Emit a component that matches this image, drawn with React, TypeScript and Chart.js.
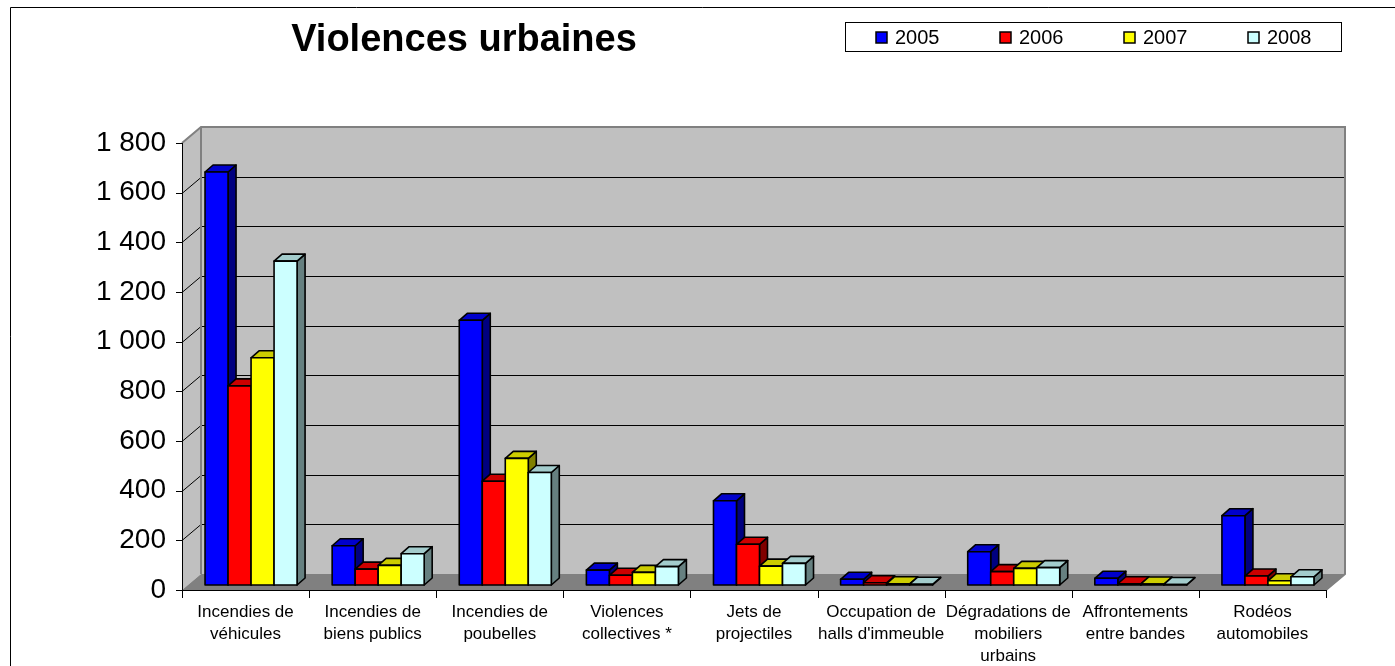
import React, { useEffect, useRef } from 'react';
import { Chart, registerables } from 'chart.js';

Chart.register(...registerables);

const TITLE = 'Violences urbaines';
const categories: string[][] = [
  ['Incendies de', 'véhicules'],
  ['Incendies de', 'biens publics'],
  ['Incendies de', 'poubelles'],
  ['Violences', 'collectives *'],
  ['Jets de', 'projectiles'],
  ['Occupation de', "halls d'immeuble"],
  ['Dégradations de', 'mobiliers', 'urbains'],
  ['Affrontements', 'entre bandes'],
  ['Rodéos', 'automobiles'],
];
const years = ['2005', '2006', '2007', '2008'];
const values2005 = [1663, 158, 1066, 60, 339, 23, 134, 27, 279];
const values2006 = [802, 64, 418, 39, 164, 9, 54, 5, 36];
const values2007 = [915, 79, 510, 51, 76, 5, 67, 4, 17];
const values2008 = [1304, 126, 453, 74, 87, 3, 70, 2, 33];
const yMin = 0;
const yMax = 1800;
const yStep = 200;

const frontColors = ['#0000FF', '#FF0000', '#FFFF00', '#CCFFFF'];
const topColors = ['#0000CC', '#CC0000', '#CCCC00', '#A3CCCC'];
const sideColors = ['#000080', '#800000', '#808000', '#668080'];

const FONT = '"Liberation Sans", Arial, Helvetica, sans-serif';

// wall depth and bar placement inside the depth
const DX = 19, DY = -16;
const SX = 5.5, SY = -5;
const BX = 8, BY = -7;

function fmt(v: number): string {
  if (v >= 1000) return `${Math.floor(v / 1000)} ${String(v % 1000).padStart(3, '0')}`;
  return String(v);
}

const threeD = {
  id: 'threeD',
  beforeDraw(chart: any) {
    const ctx = chart.ctx as CanvasRenderingContext2D;
    ctx.save();
    ctx.fillStyle = '#ffffff';
    ctx.fillRect(0, 0, chart.width, chart.height);
    // frame
    ctx.strokeStyle = '#000';
    ctx.lineWidth = 1;
    ctx.beginPath();
    ctx.moveTo(10.5, chart.height);
    ctx.lineTo(10.5, 7.5);
    ctx.lineTo(chart.width, 7.5);
    ctx.stroke();
    // title
    ctx.fillStyle = '#000';
    ctx.font = `bold 38px ${FONT}`;
    ctx.textAlign = 'center';
    ctx.textBaseline = 'alphabetic';
    ctx.fillText(TITLE, 464, 51);
    // legend
    ctx.lineWidth = 1;
    ctx.strokeStyle = '#000';
    ctx.strokeRect(845.5, 22.5, 496, 29);
    ctx.font = `20px ${FONT}`;
    ctx.textAlign = 'left';
    ctx.textBaseline = 'middle';
    years.forEach((yr, i) => {
      const sx = 876 + i * 124;
      ctx.fillStyle = frontColors[i];
      ctx.fillRect(sx, 32, 11, 11);
      ctx.lineWidth = 1.5;
      ctx.strokeRect(sx, 32, 11, 11);
      ctx.fillStyle = '#000';
      ctx.fillText(yr, sx + 19, 38);
    });
    ctx.restore();
  },
  beforeDatasetsDraw(chart: any) {
    const ctx = chart.ctx as CanvasRenderingContext2D;
    const a = chart.chartArea;
    const ys = chart.scales.y;
    const xs = chart.scales.x;
    const L = a.left, R = a.right;
    const B = ys.getPixelForValue(yMin);
    const T = ys.getPixelForValue(yMax);
    ctx.save();
    // side wall
    ctx.fillStyle = '#C0C0C0';
    ctx.beginPath();
    ctx.moveTo(L, T); ctx.lineTo(L + DX, T + DY); ctx.lineTo(L + DX, B + DY); ctx.lineTo(L, B);
    ctx.closePath(); ctx.fill();
    // back wall
    ctx.fillRect(L + DX, T + DY, R - L, B - T);
    // floor
    ctx.fillStyle = '#808080';
    ctx.beginPath();
    ctx.moveTo(L, B); ctx.lineTo(R, B); ctx.lineTo(R + DX, B + DY); ctx.lineTo(L + DX, B + DY);
    ctx.closePath(); ctx.fill();
    // gridlines
    ctx.strokeStyle = '#000';
    ctx.lineWidth = 1;
    for (let v = yMin + yStep; v < yMax; v += yStep) {
      const py = Math.round(ys.getPixelForValue(v)) + 0.5;
      ctx.beginPath();
      ctx.moveTo(L, py); ctx.lineTo(L + DX, py + DY); ctx.lineTo(R + DX, py + DY);
      ctx.stroke();
    }
    // wall borders
    ctx.strokeStyle = '#808080';
    ctx.lineWidth = 2;
    ctx.beginPath();
    ctx.moveTo(L, T); ctx.lineTo(L + DX, T + DY); ctx.lineTo(R + DX, T + DY); ctx.lineTo(R + DX, B + DY); ctx.lineTo(R, B);
    ctx.moveTo(L + DX, T + DY); ctx.lineTo(L + DX, B + DY);
    ctx.stroke();
    // front y axis + ticks
    ctx.strokeStyle = '#000';
    ctx.lineWidth = 1;
    ctx.beginPath();
    ctx.moveTo(L + 0.5, T); ctx.lineTo(L + 0.5, B);
    for (let v = yMin; v <= yMax; v += yStep) {
      const py = Math.round(ys.getPixelForValue(v)) + 0.5;
      ctx.moveTo(L - 6, py); ctx.lineTo(L + 0.5, py);
    }
    // x axis + ticks
    ctx.moveTo(L, B + 0.5); ctx.lineTo(R, B + 0.5);
    const n = categories.length;
    for (let i = 0; i <= n; i++) {
      const px = Math.round(i < n ? xs.getPixelForValue(i) - (R - L) / n / 2 : R) + 0.5;
      ctx.moveTo(px, B); ctx.lineTo(px, B + 8);
    }
    ctx.stroke();
    ctx.restore();
    // bar plane shift
    ctx.save();
    ctx.translate(SX, SY);
  },
  afterDatasetsDraw(chart: any) {
    const ctx = chart.ctx as CanvasRenderingContext2D;
    const nds = chart.data.datasets.length;
    const n = categories.length;
    ctx.lineWidth = 1.6;
    ctx.strokeStyle = '#000';
    ctx.lineJoin = 'round';
    for (let j = 0; j < n; j++) {
      for (let i = 0; i < nds; i++) {
        const el = chart.getDatasetMeta(i).data[j];
        if (!el) continue;
        const { x, y, base, width } = el.getProps(['x', 'y', 'base', 'width'], true);
        const l = x - width / 2, r = x + width / 2;
        // side
        ctx.fillStyle = sideColors[i];
        ctx.beginPath();
        ctx.moveTo(r, y); ctx.lineTo(r + BX, y + BY); ctx.lineTo(r + BX, base + BY); ctx.lineTo(r, base);
        ctx.closePath(); ctx.fill(); ctx.stroke();
        // top
        ctx.fillStyle = topColors[i];
        ctx.beginPath();
        ctx.moveTo(l, y); ctx.lineTo(l + BX, y + BY); ctx.lineTo(r + BX, y + BY); ctx.lineTo(r, y);
        ctx.closePath(); ctx.fill(); ctx.stroke();
        // front
        ctx.fillStyle = frontColors[i];
        ctx.beginPath();
        ctx.rect(l, y, r - l, base - y);
        ctx.fill(); ctx.stroke();
      }
    }
    ctx.restore();
  },
};

export default function App() {
  const ref = useRef<HTMLCanvasElement | null>(null);
  useEffect(() => {
    if (!ref.current) return;
    const series = [values2005, values2006, values2007, values2008];
    const chart = new Chart(ref.current, {
      type: 'bar',
      data: {
        labels: categories,
        datasets: series.map((d, i) => ({
          label: years[i],
          data: d,
          backgroundColor: frontColors[i],
          borderColor: '#000',
          borderWidth: 0,
          barPercentage: 1,
          categoryPercentage: 0.724,
        })),
      },
      options: {
        responsive: false,
        animation: false,
        events: [],
        layout: { padding: { left: 0, right: 69, top: 143, bottom: 0 } },
        plugins: {
          legend: { display: false },
          title: { display: false },
          tooltip: { enabled: false },
        },
        scales: {
          x: {
            grid: { display: false, drawTicks: false },
            border: { display: false },
            ticks: {
              autoSkip: false,
              maxRotation: 0,
              minRotation: 0,
              padding: 11,
              color: '#000',
              font: { family: FONT, size: 17, lineHeight: 1.3 },
            },
            afterFit(scale: any) { scale.height = 76; },
          },
          y: {
            min: yMin,
            max: yMax,
            grid: { display: false, drawTicks: false },
            border: { display: false },
            ticks: {
              stepSize: yStep,
              padding: 16,
              color: '#000',
              font: { family: FONT, size: 28 },
              callback: (v: any) => fmt(Number(v)),
            },
            afterFit(scale: any) { scale.width = 182; },
          },
        },
      },
      plugins: [threeD],
    });
    return () => chart.destroy();
  }, []);
  return (
    <div style={{ position: 'fixed', left: 0, top: 0, width: 1395, height: 666, overflow: 'hidden', background: '#fff' }}>
      <canvas ref={ref} width={1395} height={666} style={{ display: 'block' }} />
    </div>
  );
}
